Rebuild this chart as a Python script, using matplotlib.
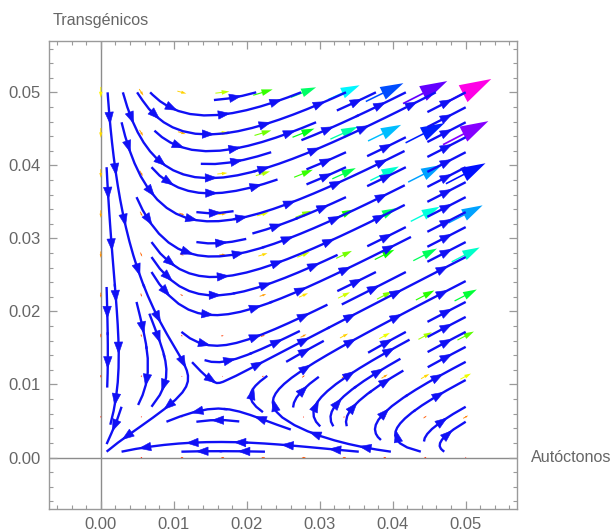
import numpy as np
import matplotlib
matplotlib.use("Agg")
import matplotlib.pyplot as plt
import matplotlib.colors as mcolors
from matplotlib.patches import Polygon
from matplotlib.ticker import AutoMinorLocator, FormatStrFormatter

# field: saddle near (0.016, 0.0097), origin stable
rate_x = 1.0
rate_y = 0.72
nullx_coef = [0.01456, -0.3172, 0.84]   # x' = 0 on y = p + q x + r x^2
nully_x0 = 0.0164                        # y' = 0 on x = x0 - k y
nully_k = 0.04

grid_vec = np.linspace(0, 0.05, 10)      # VectorPlot points
lims = [-0.00705, 0.05707]
xticks = [0.00, 0.01, 0.02, 0.03, 0.04, 0.05]
yticks = [0.00, 0.01, 0.02, 0.03, 0.04, 0.05]
xlabel = "Autóctonos"
ylabel = "Transgénicos"


def field(x, y):
    p, q, r = nullx_coef
    u = rate_x * x * (y - (p + q * x + r * x ** 2))
    v = rate_y * y * (x + nully_k * y - nully_x0)
    return u, v


plt.rcParams['font.family'] = ['Liberation Sans', 'DejaVu Sans']
fig = plt.figure(figsize=(6.14, 5.32), dpi=100)
ax = fig.add_axes([0.0803, 0.0432, 0.7622, 0.8803])

gray = '#9a9a9a'
txt = '#666666'
blue = '#1010f5'

# axes lines
ax.axhline(0, color='#8c8c8c', lw=1.0, zorder=0)
ax.axvline(0, color='#8c8c8c', lw=1.0, zorder=0)

# vector arrows
gx, gy = np.meshgrid(grid_vec, grid_vec)
gu, gv = field(gx, gy)
norm = np.hypot(gu, gv)
nmax = norm.max()
for xi, yi, ui, vi, ni in zip(gx.ravel(), gy.ravel(), gu.ravel(), gv.ravel(), norm.ravel()):
    if ni == 0:
        continue
    L = 0.0079 * ni / nmax
    dx, dy = ui / ni * L, vi / ni * L
    col = mcolors.hsv_to_rgb([0.85 * ni / nmax, 1, 1])
    w = 0.02 * L + 0.0001
    ax.arrow(xi - dx / 2, yi - dy / 2, dx, dy, width=w,
             head_width=max(0.33 * L, 1.6 * w), head_length=0.55 * L,
             length_includes_head=True, color=col, lw=0, zorder=1)

# stream lines (kept off the two axes, as in the original)
xs = np.linspace(0.0008, 0.05, 120)
X, Y = np.meshgrid(xs, xs)
U, V = field(X, Y)
sp = ax.streamplot(X, Y, U, V, density=0.85, color=blue, linewidth=1.7,
                   arrowstyle='-', arrowsize=0.1, zorder=2)

# get single stream lines back (whole polylines, or two-point pieces)
segs = [np.asarray(s) for s in sp.lines.get_segments()]
if any(len(s) > 2 for s in segs):
    trajs = segs
else:
    trajs = []
    cur = [segs[0][0], segs[0][1]]
    for s in segs[1:]:
        if np.allclose(s[0], cur[-1], rtol=0, atol=1e-12):
            cur.append(s[1])
        else:
            trajs.append(np.array(cur))
            cur = [s[0], s[1]]
    trajs.append(np.array(cur))

# several arrow heads along every stream line
spacing = 0.0072
head_len = 0.0016
head_half = 0.00058
for t in trajs:
    d = np.concatenate([[0], np.cumsum(np.hypot(*np.diff(t, axis=0).T))])
    S = d[-1]
    if S < 0.002:
        continue
    n = max(1, int(round(S / spacing)))
    for k in range(n):
        pos = min(S * (k + 0.5) / n + head_len / 2, S)
        hx, hy = np.interp(pos, d, t[:, 0]), np.interp(pos, d, t[:, 1])
        bx, by = np.interp(pos - head_len, d, t[:, 0]), np.interp(pos - head_len, d, t[:, 1])
        ux, uy = hx - bx, hy - by
        m = np.hypot(ux, uy)
        if m == 0:
            continue
        ux, uy = ux / m, uy / m
        bx, by = hx - ux * head_len, hy - uy * head_len
        tri = [(hx, hy), (bx - uy * head_half, by + ux * head_half),
               (bx + uy * head_half, by - ux * head_half)]
        ax.add_patch(Polygon(tri, closed=True, facecolor=blue, edgecolor=blue,
                             lw=0.4, zorder=3))

ax.set_xlim(lims)
ax.set_ylim(lims)
ax.set_xticks(xticks)
ax.set_yticks(yticks)
ax.xaxis.set_major_formatter(FormatStrFormatter('%.2f'))
ax.yaxis.set_major_formatter(FormatStrFormatter('%.2f'))
ax.xaxis.set_minor_locator(AutoMinorLocator(5))
ax.yaxis.set_minor_locator(AutoMinorLocator(5))
ax.tick_params(which='both', direction='in', top=True, right=True, color=gray,
               labelcolor=txt, labelsize=12)
ax.tick_params(which='major', length=6, width=0.9, pad=6)
ax.tick_params(which='minor', length=3, width=0.8)
for s in ax.spines.values():
    s.set_color(gray)
    s.set_linewidth(1.0)

fig.text(0.085, 0.975, ylabel, color=txt, fontsize=11.6, ha='left', va='top')
ax.text(1.03, 0.0, xlabel, color=txt, fontsize=11.6, ha='left', va='center',
        transform=ax.get_yaxis_transform(), clip_on=False)

fig.savefig('out.png', dpi=100, facecolor='white')
